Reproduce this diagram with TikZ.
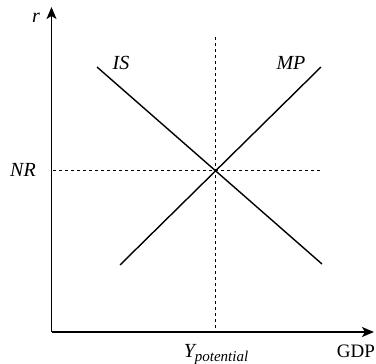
\documentclass[tikz,border=0pt]{standalone}
\usepackage{fontspec}
\setmainfont{Liberation Serif}
\usetikzlibrary{positioning,arrows.meta}

\begin{document}
\begin{tikzpicture}[x=1pt,y=-1pt,>={Stealth[length=12pt,width=10pt,inset=3pt]},
  curve/.style={line width=1.4pt},
  guide/.style={line width=1pt,dash pattern=on 3pt off 3pt},
  lbl/.style={font=\fontsize{20}{22}\selectfont\itshape,inner sep=0pt}]
\useasboundingbox (0,0) rectangle (376,364);
% axes
\coordinate (O) at (51.5,332);
\coordinate (rtop) at (51.5,7);
\coordinate (xend) at (374,332);
\draw[->,line width=1.6pt] (O) -- (rtop);
\draw[->,line width=1.6pt] (O) -- (xend);
\node[lbl] (r) at (36,18) {r};
\node[lbl,font=\fontsize{19}{21}\selectfont,anchor=base] (gdp) at (356,357) {GDP};
% curves
\coordinate (is0) at (97,67);
\coordinate (is1) at (322,264);
\coordinate (mp0) at (120,265);
\coordinate (mp1) at (321,67);
\draw[curve] (is0) -- (is1);
\draw[curve] (mp0) -- (mp1);
\node[lbl] (is) at (121,63) {IS};
\node[lbl] (mp) at (291,63) {MP};
% equilibrium
\coordinate (E) at (215,170.5);
\coordinate (vtop) at (215,37);
\coordinate (vbot) at (215,332);
\coordinate (hl) at (53,170.5);
\coordinate (hr) at (322,170.5);
\draw[guide] (vtop) -- (vbot);
\draw[guide] (hl) -- (hr);
\node[lbl] (nr) at (23,170) {NR};
\node[lbl,anchor=base] (ypot) at (216,357) {Y\raisebox{-0.5ex}{\fontsize{15}{17}\selectfont potential}};
\end{tikzpicture}
\end{document}
